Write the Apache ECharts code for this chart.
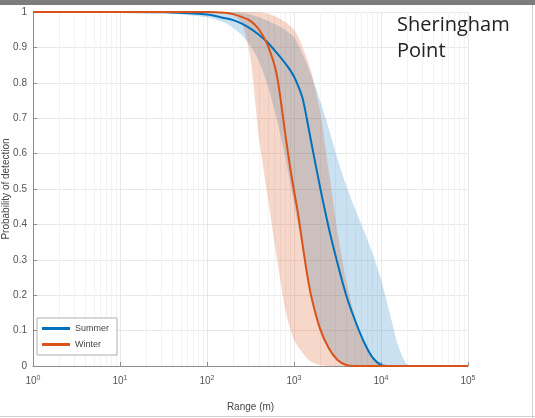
<!DOCTYPE html>
<html>
<head>
<meta charset="utf-8">
<script src="https://cdn.jsdelivr.net/npm/echarts@6/dist/echarts.min.js"></script>
<style>
html,body{margin:0;padding:0;background:#fff;}
#chart{width:535px;height:418px;}
</style>
</head>
<body>
<div id="chart"></div>
<script>
// Range (m) sample points
const rangeM = [1, 10, 32, 100, 158, 200, 251, 316, 398, 501, 631, 794, 891, 1000, 1122, 1259, 1413, 1585, 1995, 2512, 3162, 3981, 5012, 6310, 7943, 10000, 12589, 15849, 19953, 31623, 100000];
// Summer
const summerMean  = [1, 1, 0.999, 0.993, 0.983, 0.977, 0.967, 0.953, 0.935, 0.913, 0.885, 0.855, 0.838, 0.818, 0.79, 0.755, 0.695, 0.63, 0.505, 0.39, 0.29, 0.2, 0.13, 0.07, 0.025, 0.003, 0, 0, 0, 0, 0];
const summerLower = [1, 1, 0.997, 0.985, 0.97, 0.955, 0.935, 0.905, 0.86, 0.79, 0.70, 0.59, 0.525, 0.46, 0.395, 0.33, 0.265, 0.205, 0.11, 0.05, 0.017, 0.003, 0, 0, 0, 0, 0, 0, 0, 0, 0];
const summerUpper = [1, 1, 1, 1, 1, 0.999, 0.997, 0.993, 0.985, 0.975, 0.963, 0.95, 0.94, 0.93, 0.907, 0.88, 0.852, 0.82, 0.75, 0.67, 0.585, 0.51, 0.445, 0.385, 0.32, 0.245, 0.15, 0.055, 0.005, 0, 0];
// Winter
const winterMean  = [1, 1, 1, 1, 0.998, 0.994, 0.986, 0.975, 0.95, 0.905, 0.825, 0.655, 0.57, 0.495, 0.425, 0.34, 0.26, 0.195, 0.105, 0.05, 0.017, 0.003, 0, 0, 0, 0, 0, 0, 0, 0, 0];
const winterLower = [1, 1, 1, 1, 0.997, 0.99, 0.97, 0.87, 0.64, 0.475, 0.31, 0.16, 0.11, 0.075, 0.053, 0.037, 0.022, 0.012, 0.002, 0, 0, 0, 0, 0, 0, 0, 0, 0, 0, 0, 0];
const winterUpper = [1, 1, 1, 1, 1, 1, 1, 1, 0.999, 0.995, 0.986, 0.972, 0.962, 0.95, 0.93, 0.9, 0.868, 0.83, 0.72, 0.55, 0.38, 0.24, 0.14, 0.07, 0.025, 0.004, 0, 0, 0, 0, 0];
// Axis ticks
const xTickExponents = [0, 1, 2, 3, 4, 5];
const yTicks = [0, 0.1, 0.2, 0.3, 0.4, 0.5, 0.6, 0.7, 0.8, 0.9, 1];
const seriesNames = ['Summer', 'Winter'];
const title = ['Sheringham', 'Point'];

const BLUE = '#0072BD', ORANGE = '#D95319';

function pairs(xs, ys){ return xs.map((x,i)=>[x, ys[i]]); }

function bandSeries(lower, upper, fill){
  return {
    type: 'custom', silent: true, clip: true, z: 1,
    data: [[rangeM[0], 0]],
    renderItem: function(params, api){
      const pts = [];
      for (let i = 0; i < rangeM.length; i++) pts.push(api.coord([rangeM[i], upper[i]]));
      for (let i = rangeM.length - 1; i >= 0; i--) pts.push(api.coord([rangeM[i], lower[i]]));
      return { type: 'polygon', shape: { points: pts, smooth: 0.2 }, style: { fill: fill, stroke: null } };
    }
  };
}

// minor log grid positions (2..9 x 10^k)
const minorX = [];
for (let k = 0; k < 5; k++) for (let m = 2; m <= 9; m++) minorX.push(m * Math.pow(10, k));

const chart = echarts.init(document.getElementById('chart'), null, {renderer: 'canvas'});
const axisColor = '#8c8c8c';
chart.setOption({
  animation: false,
  backgroundColor: '#fff',
  grid: { left: 33, right: 67, top: 12, bottom: 52, containLabel: false, outerBoundsMode: 'none' },
  xAxis: {
    type: 'log', logBase: 10, min: 1, max: 100000,
    axisLine: { show: true, lineStyle: { color: axisColor } },
    axisTick: { show: true, inside: true, length: 4, lineStyle: { color: axisColor } },
    axisLabel: {
      color: '#555', margin: 9,
      formatter: v => '{b|10}{s|' + xTickExponents[Math.round(Math.log10(v))] + '}',
      rich: { b: { fontSize: 10, color: '#555', fontFamily: 'Liberation Sans' }, s: { fontSize: 7, color: '#555', padding: [0, 0, 6, 0], fontFamily: 'Liberation Sans' } }
    },
    splitLine: { show: true, lineStyle: { color: '#e8e8e8' } },
    name: 'Range (m)', nameLocation: 'middle', nameGap: 36, nameMoveOverlap: false,
    nameTextStyle: { color: '#444', fontSize: 10, fontFamily: 'Liberation Sans' }
  },
  yAxis: {
    type: 'value', min: 0, max: 1, interval: 0.1,
    axisLine: { show: true, lineStyle: { color: axisColor } },
    axisTick: { show: true, inside: true, length: 4, lineStyle: { color: axisColor } },
    axisLabel: { color: '#555', fontSize: 10, margin: 6, fontFamily: 'Liberation Sans',
      formatter: v => String(yTicks[Math.round(v * 10)]) },
    splitLine: { show: true, lineStyle: { color: '#e8e8e8' } },
    name: 'Probability of detection', nameLocation: 'middle', nameGap: 22, nameRotate: 90, nameMoveOverlap: false,
    nameTextStyle: { color: '#444', fontSize: 10, fontFamily: 'Liberation Sans' }
  },
  legend: {
    data: seriesNames, orient: 'vertical', left: 37, top: 318, z: 20,
    backgroundColor: '#fff', borderColor: '#b0b0b0', borderWidth: 1,
    padding: [6, 8, 6, 5], itemGap: 7, itemWidth: 28, itemHeight: 3, icon: 'rect',
    textStyle: { color: '#444', fontSize: 9, fontFamily: 'Liberation Sans' }
  },
  graphic: [
    { type: 'rect', shape: { x: 0, y: 0, width: 535, height: 5 }, style: { fill: '#7d7d7d' }, z: 100 },
    { type: 'line', shape: { x1: 0, y1: 416.5, x2: 535, y2: 416.5 }, style: { stroke: '#cfcfcf', lineWidth: 1 } },
    { type: 'line', shape: { x1: 532.5, y1: 5, x2: 532.5, y2: 418 }, style: { stroke: '#cfcfcf', lineWidth: 1 } },
    { type: 'text', left: 397, top: 15, z: 100, style: { text: title[0], fill: '#222', font: '20px "Open Sans"' } },
    { type: 'text', left: 397, top: 41, z: 100, style: { text: title[1], fill: '#222', font: '20px "Open Sans"' } }
  ],
  series: [
    {
      type: 'line', silent: true, data: [], symbol: 'none', z: 0,
      markLine: { silent: true, symbol: 'none', label: { show: false }, z: 0,
        lineStyle: { color: '#f3f3f3', width: 1, type: 'solid' },
        data: minorX.map(x => ({ xAxis: x })) }
    },
    bandSeries(summerLower, summerUpper, 'rgba(0,114,189,0.21)'),
    bandSeries(winterLower, winterUpper, 'rgba(217,83,25,0.23)'),
    { name: seriesNames[0], type: 'line', data: pairs(rangeM, summerMean), symbol: 'none', smooth: 0.3, z: 3,
      lineStyle: { color: BLUE, width: 2 }, itemStyle: { color: BLUE } },
    { name: seriesNames[1], type: 'line', data: pairs(rangeM, winterMean), symbol: 'none', smooth: 0.3, z: 4,
      lineStyle: { color: ORANGE, width: 2 }, itemStyle: { color: ORANGE } }
  ]
});
</script>
</body>
</html>
